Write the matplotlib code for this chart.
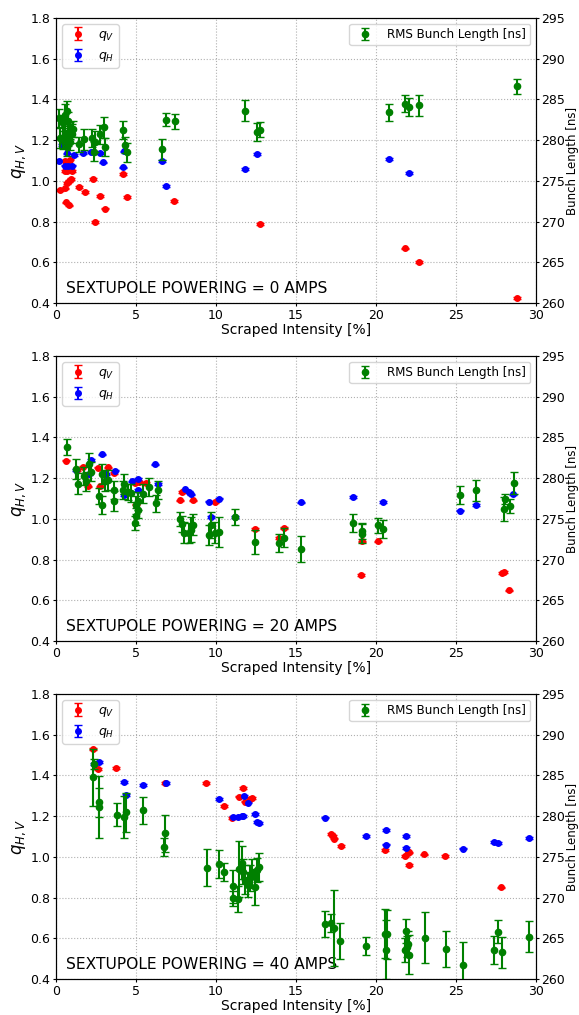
import matplotlib
matplotlib.use("Agg")
import matplotlib.pyplot as plt

# ---- SEXTUPOLE = 0 A ----
qv_x0 = [0.25, 0.55, 0.66, 0.8, 0.93, 0.55, 0.66, 0.97, 0.76, 0.55, 0.86, 0.62, 0.82,
         1.44, 1.81, 2.33, 2.45, 2.78, 3.09, 4.18, 4.44, 7.39, 12.74, 21.82, 22.66, 28.79]
qv_y0 = [0.955, 0.963, 0.99, 1.0, 1.01, 1.05, 1.05, 1.05, 1.08, 1.10, 1.105, 0.895, 0.88,
         0.97, 0.947, 1.01, 0.80, 0.927, 0.864, 1.034, 0.92, 0.903, 0.79, 0.669, 0.602, 0.426]
qh_x0 = [0.21, 0.35, 0.55, 0.76, 0.97, 0.66, 1.11, 1.71, 2.18, 2.76, 2.94, 4.2, 4.26,
         6.63, 6.85, 11.79, 12.59, 20.79, 22.05]
qh_y0 = [1.10, 1.176, 1.075, 1.075, 1.075, 1.135, 1.127, 1.138, 1.142, 1.137, 1.091, 1.066, 1.145,
         1.097, 0.976, 1.058, 1.133, 1.109, 1.039]
bl_x0 = [0.21, 0.25, 0.45, 0.55, 0.66, 0.76, 0.86, 0.97, 1.07, 0.45, 0.66, 0.86, 0.55, 0.76,
         1.44, 1.75, 2.25, 2.37, 2.45, 2.76, 2.98, 3.09, 4.2, 4.32, 4.42, 6.63, 6.85, 7.41,
         11.79, 12.59, 12.74, 20.79, 21.82, 22.05, 22.66, 28.79]
bl_y0 = [282.75, 280.3, 282.1, 283.1, 283.6, 282.3, 281.2, 280.8, 281.4, 280.0, 279.2, 279.8, 280.8, 280.4,
         279.5, 280.1, 280.3, 278.6, 279.8, 280.7, 281.6, 279.2, 281.3, 279.4, 278.5, 278.9, 282.5, 282.3,
         283.6, 281.0, 281.3, 283.4, 284.5, 284.1, 284.3, 286.6]
bl_e0 = [1.1, 1.2, 1.0, 1.3, 1.2, 1.1, 1.0, 1.2, 1.0, 1.1, 1.2, 1.0, 1.3, 1.1,
         0.9, 1.3, 1.1, 1.2, 1.3, 1.2, 1.3, 1.1, 1.1, 1.0, 1.2, 1.3, 0.8, 0.9,
         1.3, 1.1, 0.9, 1.1, 1.0, 1.1, 1.3, 0.95]

# ---- SEXTUPOLE = 20 A ----
qv_x1 = [0.62, 1.29, 1.7, 1.88, 2.01, 2.63, 2.78, 3.26, 3.61, 4.92, 5.21, 5.63, 5.0,
         7.72, 7.88, 8.55, 9.94, 12.43, 13.92, 14.26, 19.12, 20.15, 19.08, 27.9, 28.0, 28.33]
qv_y1 = [1.286, 1.24, 1.257, 1.215, 1.16, 1.252, 1.16, 1.253, 1.226, 1.175, 1.18, 1.176, 1.07,
         1.091, 1.132, 1.091, 1.081, 0.952, 0.906, 0.955, 0.89, 0.89, 0.725, 0.735, 0.74, 0.649]
qh_x1 = [1.25, 2.08, 2.19, 2.85, 3.13, 3.71, 4.27, 4.75, 5.1, 5.1, 6.21, 6.4, 8.09, 8.34,
         8.44, 9.54, 9.71, 10.17, 11.18, 15.29, 18.54, 20.46, 25.27, 26.23, 28.58]
qh_y1 = [1.24, 1.22, 1.29, 1.317, 1.22, 1.237, 1.119, 1.184, 1.195, 1.143, 1.268, 1.17, 1.145, 1.133,
         1.12, 1.085, 1.01, 1.1, 1.011, 1.081, 1.108, 1.084, 1.041, 1.067, 1.12]
bl_x1 = [0.67, 1.25, 1.4, 1.77, 1.88, 2.08, 2.19, 2.67, 2.85, 2.85, 3.08, 3.23, 3.65, 3.65,
         4.17, 4.27, 4.48, 4.7, 4.94, 5.0, 5.0, 5.1, 5.15, 5.46, 5.79, 6.25, 6.4, 7.72, 7.88,
         8.03, 8.3, 8.44, 8.55, 9.54, 9.71, 9.94, 10.17, 11.18, 12.43, 13.92, 14.26, 15.29,
         18.54, 19.12, 19.12, 20.15, 20.46, 25.27, 26.23, 27.99, 28.08, 28.35, 28.6]
bl_y1 = [283.8, 281.1, 279.3, 280.3, 279.6, 281.8, 280.8, 277.8, 276.7, 280.5, 279.7, 279.8, 278.6, 277.2,
         278.6, 279.3, 278.3, 278.2, 274.5, 275.3, 276.7, 276.1, 277.2, 278.1, 278.9, 276.9, 278.5, 275.0, 274.4,
         273.3, 273.3, 273.7, 274.3, 273.0, 274.3, 273.3, 273.4, 275.2, 272.2, 272.1, 272.7, 271.3,
         274.5, 273.5, 273.2, 274.2, 273.8, 277.9, 278.5, 276.2, 277.4, 276.6, 279.4]
bl_e1 = [1.0, 1.2, 1.3, 1.1, 1.2, 1.3, 1.2, 1.0, 1.1, 1.2, 1.3, 1.2, 1.1, 1.2,
         1.1, 1.2, 1.0, 1.1, 0.9, 1.0, 1.1, 1.0, 1.1, 1.2, 1.1, 1.0, 1.1, 0.9, 1.0,
         1.3, 1.2, 1.5, 1.3, 1.2, 1.6, 1.3, 1.8, 1.0, 1.5, 1.1, 1.2, 1.6,
         1.1, 1.0, 1.2, 0.9, 1.1, 1.1, 1.3, 1.5, 0.6, 0.9, 1.4]

# ---- SEXTUPOLE = 40 A ----
qv_x2 = [2.29, 2.65, 3.78, 6.8, 9.38, 10.47, 11.03, 11.45, 11.71, 11.8, 12.1, 12.25,
         17.19, 17.29, 17.4, 17.81, 20.56, 21.83, 21.98, 22.08, 22.04, 23.02, 24.33, 27.81]
qv_y2 = [1.531, 1.433, 1.437, 1.364, 1.364, 1.25, 1.19, 1.296, 1.337, 1.272, 1.283, 1.29,
         1.112, 1.102, 1.09, 1.054, 1.033, 1.005, 1.017, 1.022, 0.959, 1.012, 1.005, 0.85]
qh_x2 = [2.35, 2.69, 4.22, 4.39, 5.41, 6.88, 10.17, 11.08, 11.4, 11.6, 11.7, 11.77, 12.02,
         12.44, 12.58, 12.7, 16.83, 19.38, 20.63, 20.63, 21.88, 21.88, 25.42, 27.4, 27.65, 29.58]
qh_y2 = [1.457, 1.465, 1.367, 1.305, 1.354, 1.364, 1.283, 1.198, 1.198, 1.2, 1.202, 1.3, 1.267,
         1.21, 1.17, 1.168, 1.193, 1.102, 1.131, 1.061, 1.102, 1.045, 1.041, 1.072, 1.069, 1.094]
bl_x2 = [2.29, 2.35, 2.69, 2.69, 3.82, 4.22, 4.39, 5.41, 6.84, 6.78, 9.44, 10.17, 10.48,
         11.06, 11.04, 11.35, 11.42, 11.62, 11.71, 11.81, 11.98, 12.1, 12.25, 12.42, 12.54, 12.69,
         16.83, 17.19, 17.35, 17.77, 19.38, 20.58, 20.67, 20.63, 21.88, 21.83, 21.92, 21.98, 22.08,
         23.04, 24.38, 25.46, 27.4, 27.63, 27.85, 29.58]
bl_y2 = [284.8, 286.4, 281.7, 281.1, 280.2, 279.9, 280.5, 280.7, 277.9, 276.2, 273.7, 274.1, 273.1,
         271.4, 269.9, 269.8, 273.5, 274.3, 273.2, 272.2, 271.6, 272.4, 273.0, 271.3, 273.4, 273.8,
         266.75, 266.9, 266.3, 264.7, 264.05, 265.6, 265.5, 263.6, 265.9, 263.6, 264.0, 264.3, 263.0,
         265.1, 263.7, 261.7, 263.6, 265.8, 263.3, 265.2]
bl_e2 = [3.5, 0.6, 1.8, 3.8, 1.4, 2.6, 2.4, 1.7, 2.3, 1.1, 2.3, 1.7, 1.1,
         2.0, 0.9, 1.6, 3.4, 2.0, 1.5, 1.8, 1.5, 1.6, 1.8, 2.2, 1.5, 1.7,
         1.6, 1.1, 4.7, 2.2, 1.1, 3.0, 3.0, 3.6, 1.45, 1.5, 1.3, 1.6, 2.4,
         3.1, 2.2, 2.9, 1.7, 1.4, 1.9, 1.9]

powering = [0, 20, 40]
panels = [
    (qv_x0, qv_y0, qh_x0, qh_y0, bl_x0, bl_y0, bl_e0),
    (qv_x1, qv_y1, qh_x1, qh_y1, bl_x1, bl_y1, bl_e1),
    (qv_x2, qv_y2, qh_x2, qh_y2, bl_x2, bl_y2, bl_e2),
]
tops = [0.9823, 0.6493, 0.3163]

fig = plt.figure(figsize=(5.79, 10.15), dpi=100)

for i, (vx, vy, hx, hy, bx, by, be) in enumerate(panels):
    ax = fig.add_axes([0.0967, tops[i] - 0.2810, 0.829, 0.2810])
    ax.errorbar(vx, vy, yerr=0.004, fmt='o', color='red', ms=4, capsize=3, label='$q_V$')
    ax.errorbar(hx, hy, yerr=0.004, fmt='o', color='blue', ms=4, capsize=3, label='$q_H$')
    ax.set_xlim(0, 30)
    ax.set_ylim(0.4, 1.8)
    ax.grid(True, ls=':', lw=0.8, color='#b0b0b0')
    ax.set_ylabel('$q_{H,V}$', fontsize=12, labelpad=2)
    ax.set_xlabel('Scraped Intensity [%]', fontsize=10, labelpad=1)
    ax.tick_params(labelsize=9, length=2.5, pad=1.5)
    ax.text(0.021, 0.035, 'SEXTUPOLE POWERING = %d AMPS' % powering[i],
            transform=ax.transAxes, fontsize=11.2)
    ax.legend(loc='upper left', fontsize=9, borderpad=0.3, handletextpad=0.6)

    ax2 = ax.twinx()
    ax2.errorbar(bx, by, yerr=be, fmt='o', color='green', ms=4.5, capsize=3,
                 label='RMS Bunch Length [ns]')
    ax2.set_ylim(260, 295)
    ax2.set_ylabel('Bunch Length [ns]', fontsize=8.5, labelpad=0.5)
    ax2.tick_params(labelsize=9, length=2.5, pad=1.5)
    ax2.legend(loc='upper right', fontsize=8.6, borderpad=0.35)

fig.savefig('out.png', dpi=100)
